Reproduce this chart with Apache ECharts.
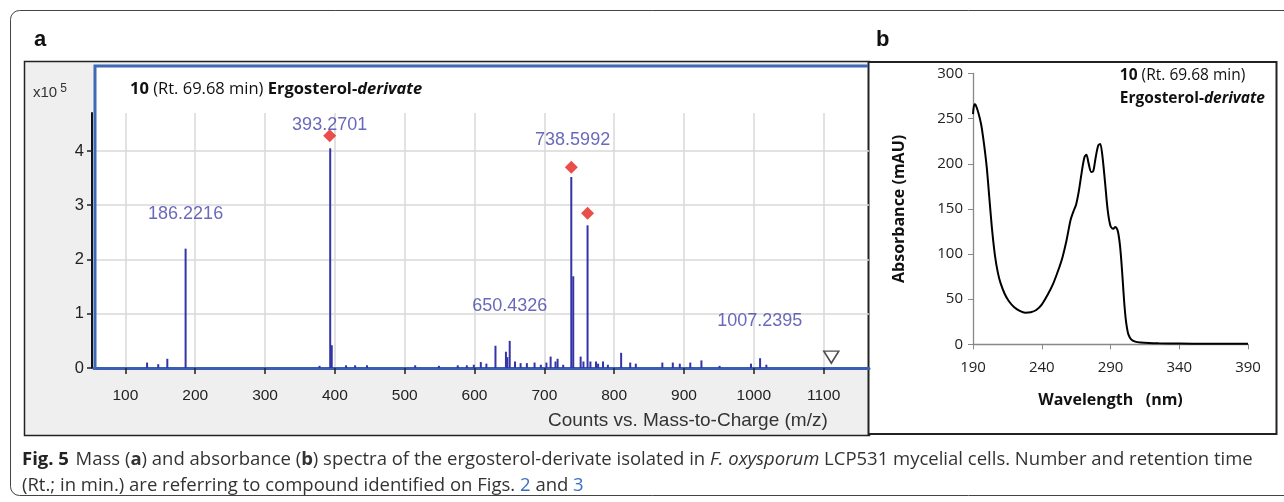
<!DOCTYPE html>
<html>
<head>
<meta charset="utf-8">
<script src="https://cdn.jsdelivr.net/npm/echarts@6/dist/echarts.min.js"></script>
<style>
  html, body { margin: 0; padding: 0; background: #fff; }
  #chart { width: 1284px; height: 502px; }
</style>
</head>
<body>
<div id="chart"></div>
<script>
// ---- panel a: mass spectrum (m/z vs counts x10^5) ----
var msMz = [131, 147, 160, 186.2, 378, 393.3, 395.5, 416, 429, 446, 515, 549, 576, 589, 599,
  609, 617, 630, 645, 647, 650.4, 658, 666, 675, 686, 695, 703, 709, 716, 719, 727,
  738.6, 741.4, 752, 756, 761.9, 766, 774, 777, 784, 791, 810, 823, 831, 869, 884, 894,
  909, 925, 951, 996, 1009, 1018];
var msInt = [0.10, 0.07, 0.17, 2.2, 0.04, 4.05, 0.42, 0.05, 0.05, 0.05, 0.05, 0.04, 0.05, 0.05, 0.06,
  0.11, 0.08, 0.41, 0.30, 0.20, 0.50, 0.12, 0.09, 0.09, 0.10, 0.06, 0.10, 0.21, 0.12, 0.17, 0.06,
  3.52, 1.69, 0.21, 0.12, 2.63, 0.12, 0.12, 0.08, 0.12, 0.06, 0.28, 0.10, 0.08, 0.10, 0.10, 0.08,
  0.10, 0.14, 0.04, 0.08, 0.18, 0.06];

var ionText = ['186.2216', '393.2701', '650.4326', '738.5992', '1007.2395'];
var ionMz = [186.2, 392.5, 650.4, 740.5, 1008.5];
var ionY = [2.84, 4.48, 1.14, 4.21, 0.87];

var diamondMz = [392.6, 738.6, 761.9];
var diamondY = [4.28, 3.70, 2.85];

var markerMz = [1111];
var markerY = [0.2];

var msTicksX = [100, 200, 300, 400, 500, 600, 700, 800, 900, 1000, 1100];
var msTicksY = [0, 1, 2, 3, 4];

// ---- panel b: UV absorbance spectrum ----
var uvWl = [190, 191, 192, 194, 196, 198, 200, 202, 204, 206, 208, 210, 213, 216, 220, 224, 228,
  232, 236, 240, 244, 248, 252, 255, 258, 261, 263, 265, 267, 269, 271, 272.5, 274, 276, 277.5,
  279, 281, 282.5, 284, 286, 288, 290, 292, 293.5, 295, 296, 297, 298, 299, 300, 301, 302, 303,
  305, 308, 312, 318, 325, 340, 360, 390];
var uvAbs = [255, 266, 265, 256, 243, 222, 196, 160, 125, 98, 80, 68, 56, 48, 41, 37, 35,
  35.5, 38, 44, 54, 66, 82, 96, 115, 138, 147, 155, 170, 190, 207, 210, 201, 191, 192,
  205, 220, 222, 210, 180, 148, 131, 128, 130, 127, 120, 108, 90, 68, 46, 29, 18, 11,
  5.5, 3, 2, 1.4, 1.1, 0.8, 0.6, 0.5];
var uvTicksX = [190, 240, 290, 340, 390];

var chart = echarts.init(document.getElementById('chart'));

function pairs(xs, ys) {
  return xs.map(function (x, i) { return [x, ys[i]]; });
}

var arial = '"Liberation Sans", Arial, sans-serif';
var sans = '"Open Sans", "Noto Sans", sans-serif';
var gridStyle = { color: '#d9d9d9', width: 1.5 };

var option = {
  animation: false,
  backgroundColor: '#ffffff',
  grid: [
    { left: 94, top: 113, width: 775, bottom: 134 },
    { left: 973, top: 73.5, right: 36, bottom: 157.7 }
  ],
  xAxis: [
    {
      gridIndex: 0, type: 'value', min: 55, max: 1165,
      axisLine: { lineStyle: { color: '#3d5db2', width: 3 } },
      axisTick: { customValues: msTicksX, length: 6, lineStyle: { color: '#222', width: 1.5 } },
      axisLabel: { customValues: msTicksX, margin: 20, color: '#222', fontFamily: arial, fontSize: 15.5,
        formatter: function (v) { return String(v); } },
      splitLine: { show: true, lineStyle: gridStyle }
    },
    {
      gridIndex: 1, type: 'value', min: 190, max: 390,
      name: 'Wavelength   (nm)', nameLocation: 'middle', nameGap: 48,
      nameTextStyle: { fontFamily: sans, fontWeight: 'bold', fontSize: 16, color: '#111' },
      axisLine: { lineStyle: { color: '#888', width: 1.3 } },
      axisTick: { customValues: uvTicksX, length: 5, lineStyle: { color: '#888' } },
      axisLabel: { customValues: uvTicksX, margin: 16, color: '#222', fontFamily: sans, fontSize: 15 },
      splitLine: { show: false }
    }
  ],
  yAxis: [
    {
      gridIndex: 0, type: 'value', min: 0, max: 4.7, offset: 2,
      axisLine: { show: true, lineStyle: { color: '#111', width: 2 } },
      axisTick: { show: true, customValues: msTicksY, length: 5, lineStyle: { color: '#222', width: 1.5 } },
      axisLabel: { customValues: msTicksY, margin: 8, color: '#222', fontFamily: arial, fontSize: 16.5 },
      splitLine: { show: true, lineStyle: gridStyle }
    },
    {
      gridIndex: 1, type: 'value', min: 0, max: 300, interval: 50,
      name: 'Absorbance (mAU)', nameLocation: 'middle', nameGap: 66,
      nameTextStyle: { fontFamily: sans, fontWeight: 'bold', fontSize: 16, color: '#111' },
      axisLine: { show: true, lineStyle: { color: '#888', width: 1.3 } },
      axisTick: { show: true, length: 5, lineStyle: { color: '#888' } },
      axisLabel: { margin: 10, color: '#222', fontFamily: sans, fontSize: 15 },
      splitLine: { show: false }
    }
  ],
  series: [
    {
      type: 'bar', xAxisIndex: 0, yAxisIndex: 0, z: 3,
      barWidth: 2,
      itemStyle: { color: '#3434a6' },
      data: pairs(msMz, msInt)
    },
    {
      type: 'scatter', xAxisIndex: 0, yAxisIndex: 0, z: 4,
      symbol: 'diamond', symbolSize: [13, 13],
      itemStyle: { color: '#e3221d' },
      data: pairs(diamondMz, diamondY)
    },
    {
      type: 'scatter', xAxisIndex: 0, yAxisIndex: 0, z: 4,
      symbol: 'triangle', symbolRotate: 180, symbolSize: [15, 12],
      itemStyle: { color: '#ffffff', borderColor: '#222', borderWidth: 1.5 },
      data: pairs(markerMz, markerY)
    },
    {
      type: 'scatter', xAxisIndex: 0, yAxisIndex: 0, z: 5, symbolSize: 1, clip: false,
      itemStyle: { color: 'rgba(0,0,0,0)' },
      label: {
        show: true, position: 'inside', color: '#4343aa',
        fontFamily: arial, fontSize: 18,
        formatter: function (p) { return ionText[p.dataIndex]; }
      },
      data: pairs(ionMz, ionY)
    },
    {
      type: 'line', xAxisIndex: 1, yAxisIndex: 1,
      smooth: 0.3, showSymbol: false,
      lineStyle: { color: '#000', width: 2 },
      data: pairs(uvWl, uvAbs)
    }
  ],
  graphic: [
    // outer frame
    { type: 'rect', z: -20, shape: { x: 10.5, y: 10.5, width: 1300, height: 485, r: 9 },
      style: { fill: '#fff', stroke: '#444', lineWidth: 1 } },
    // panel a box and plot area
    { type: 'rect', z: -15, shape: { x: 24.5, y: 61.5, width: 845, height: 374 },
      style: { fill: '#efefef', stroke: '#222', lineWidth: 1.5 } },
    { type: 'rect', z: -14, shape: { x: 94, y: 65, width: 775, height: 304 },
      style: { fill: '#fff' } },
    { type: 'polyline', z: 10, shape: { points: [[95, 370], [95, 66], [868, 66]] },
      style: { stroke: '#3f68b5', lineWidth: 3, fill: null } },
    // panel b box
    { type: 'rect', z: -13, shape: { x: 868.5, y: 62, width: 408, height: 372 },
      style: { fill: '#fff', stroke: '#222', lineWidth: 2 } },
    // panel letters
    { type: 'text', z: 20, left: 34, top: 29,
      style: { text: 'a', font: 'bold 22px Arial, "Liberation Sans", sans-serif', fill: '#111' } },
    { type: 'text', z: 20, left: 876, top: 29,
      style: { text: 'b', font: 'bold 22px Arial, "Liberation Sans", sans-serif', fill: '#111' } },
    // x10^5
    { type: 'text', z: 20, left: 33, top: 83,
      style: { text: 'x10{s|5}', fill: '#333', font: '15px ' + arial,
        rich: { s: { fontSize: 12, fontFamily: arial, padding: [0, 0, 8, 3], fill: '#333' } } } },
    // titles
    { type: 'text', z: 20, left: 130, top: 81,
      style: {
        text: '{b|10}{n| (Rt. 69.68 min) }{b|Ergosterol-}{bi|derivate}',
        rich: {
          b: { fontFamily: sans, fontWeight: 'bold', fontSize: 16.5, fill: '#111' },
          n: { fontFamily: sans, fontSize: 16.5, fill: '#111' },
          bi: { fontFamily: sans, fontWeight: 'bold', fontStyle: 'italic', fontSize: 16.5, fill: '#111' }
        }
      } },
    { type: 'text', z: 20, right: 19, top: 68,
      style: {
        text: '{b|10}{n| (Rt. 69.68 min)}\n{b|Ergosterol-}{bi|derivate}', align: 'right',
        rich: {
          b: { fontFamily: sans, fontWeight: 'bold', fontSize: 15.5, fill: '#111', lineHeight: 23 },
          n: { fontFamily: sans, fontSize: 15.5, fill: '#111', lineHeight: 23 },
          bi: { fontFamily: sans, fontWeight: 'bold', fontStyle: 'italic', fontSize: 15.5, fill: '#111', lineHeight: 23 }
        }
      } },
    // mass axis title
    { type: 'text', z: 20, left: 548, top: 411,
      style: { text: 'Counts vs. Mass-to-Charge (m/z)', font: '19px ' + arial, fill: '#333' } },
    // caption
    { type: 'text', z: 20, left: 22, top: 450,
      style: {
        text: '{fb|Fig. 5}  {n|Mass (}{b|a}{n|) and absorbance (}{b|b}{n|) spectra of the ergosterol-derivate isolated in }{i|F. oxysporum}{n| LCP531 mycelial cells. Number and retention time}\n' +
              '{n|(Rt.; in min.) are referring to compound identified on Figs. }{l|2}{n| and }{l|3}',
        rich: {
          fb: { fontFamily: sans, fontWeight: 'bold', fontSize: 18.5, fill: '#222', lineHeight: 26 },
          n: { fontFamily: sans, fontSize: 18.5, fill: '#333', lineHeight: 26 },
          b: { fontFamily: sans, fontWeight: 'bold', fontSize: 18.5, fill: '#333', lineHeight: 26 },
          i: { fontFamily: sans, fontStyle: 'italic', fontSize: 18.5, fill: '#333', lineHeight: 26 },
          l: { fontFamily: sans, fontSize: 18.5, fill: '#3b6fc4', lineHeight: 26 }
        }
      } }
  ]
};

chart.setOption(option);
</script>
</body>
</html>
